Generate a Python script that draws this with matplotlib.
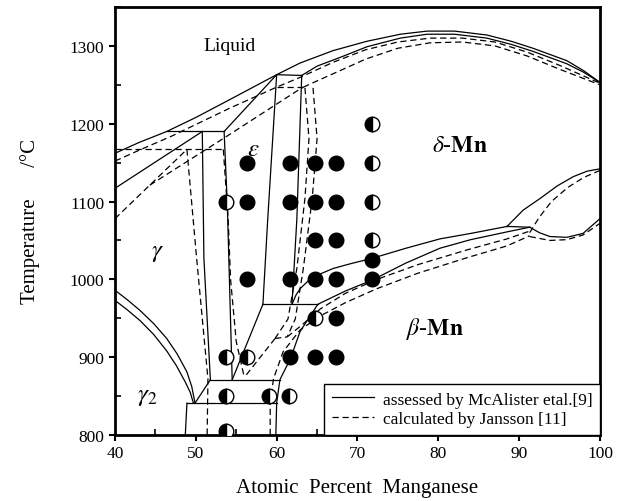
import matplotlib
matplotlib.use("Agg")
import matplotlib.pyplot as plt
from matplotlib.lines import Line2D
from matplotlib.ticker import MultipleLocator

plt.rcParams["font.family"] = ["Liberation Serif", "DejaVu Serif"]
plt.rcParams["mathtext.fontset"] = "stix"

# phase boundaries (at.% Mn, deg C), assessed by McAlister - solid lines
liquidus = [(40, 1162), (43, 1176), (46.4, 1190), (50, 1208), (54.2, 1231), (60, 1263),
            (62.9, 1278), (67, 1294), (71.2, 1306), (75.3, 1315), (78.6, 1319), (82, 1319),
            (86, 1314), (89, 1306), (91.7, 1297), (95.9, 1281), (98, 1268), (100, 1253)]
delta_solidus = [(63.1, 1262), (65, 1274), (67.8, 1285), (71.2, 1299), (75.3, 1310), (78.6, 1315),
                 (82, 1315), (86, 1310), (89, 1302), (91.7, 1293), (95.9, 1277), (98, 1266), (100, 1253)]
per_1263 = [(60, 1263), (63.1, 1262)]
eps_solidus = [(60, 1263), (53.5, 1190)]
per_1190 = [(46.4, 1190), (53.5, 1190)]
gamma_solidus = [(40, 1117), (50.8, 1190)]
gamma_solvus = [(50.8, 1190), (51.0, 1027), (51.8, 871)]
eps_left = [(53.5, 1190), (53.9, 1095), (54.5, 871)]
eps_right = [(60, 1263), (58.9, 1078), (58.3, 968)]
eps_delta = [(63.1, 1262), (62.5, 1078), (61.9, 968)]
per_968 = [(58.3, 968), (65.1, 968)]
eps_beta = [(58.3, 968), (54.5, 871)]
eut_871 = [(51.8, 871), (60.4, 871)]
gamma2_link = [(49.9, 841), (51.8, 871)]
eut_841 = [(48.9, 841), (60.0, 841)]
left_841 = [(48.9, 841), (48.7, 800)]
gamma2_outer = [(40, 986), (41.5, 974), (43.1, 960), (44.8, 943), (46.4, 924), (47.7, 904),
                (48.9, 881), (49.5, 862), (49.9, 841)]
gamma2_inner = [(40, 973), (41.5, 961), (43.1, 947), (44.8, 929), (46.4, 908), (47.6, 889),
                (48.7, 868), (49.3, 855), (49.7, 841)]
beta_left = [(59.9, 800), (60.0, 841), (60.4, 871), (61.7, 898), (62.9, 933), (65.1, 968),
             (68.5, 985), (71.8, 999), (76, 1021), (80.2, 1040), (84, 1051), (88.5, 1061), (91.3, 1067)]
delta_beta = [(61.9, 968), (62.4, 980), (62.9, 988), (64, 999), (65.4, 1007), (67, 1014), (69.1, 1020),
              (71.8, 1027), (76, 1040), (80.2, 1052), (84, 1059), (88.5, 1068)]
lens_top = [(88.5, 1068), (90.5, 1089), (92.6, 1104), (94.7, 1120), (96.7, 1132), (98.4, 1139), (100, 1142)]
lens_flat = [(88.5, 1068), (91.3, 1067)]
lens_bottom = [(91.3, 1067), (92.5, 1060), (93.8, 1055), (95.9, 1054), (97.9, 1059), (100, 1078)]

# calculated by Jansson - dashed lines
d_liquidus = [(40, 1152), (43, 1166), (47, 1184), (54.2, 1220), (60, 1247), (63, 1260), (67, 1279),
              (71, 1295), (75, 1305), (79, 1310), (83, 1310), (87, 1305), (91, 1292), (95, 1275), (100, 1252)]
d_delta_solidus = [(63.3, 1247), (65, 1255), (67.8, 1268), (71, 1283), (75, 1297), (79, 1304),
                   (83, 1305), (87, 1300), (91, 1287), (95, 1270), (100, 1250)]
d_per_1247 = [(60, 1247), (63.3, 1247)]
d_long = [(44.3, 1121), (53.4, 1181), (62.5, 1242), (63.3, 1247)]
d_per_1167 = [(40, 1167), (53.4, 1167)]
d_gamma_solidus = [(40, 1078), (48.9, 1167)]
d_gamma_solvus = [(48.9, 1167), (50.1, 1027), (51.5, 872), (51.4, 800)]
d_eps_left = [(53.4, 1167), (54.0, 1078), (54.3, 1000), (55.0, 920), (56.0, 874)]
d_eps_right1 = [(63.5, 1246), (64.0, 1181), (63.5, 1104), (62.5, 1014), (61.4, 949), (59.8, 924)]
d_eps_right2 = [(64.5, 1246), (65.0, 1181), (64.4, 1104), (63.3, 1014), (62.3, 949), (61.3, 926)]
d_eut = [(59.8, 924), (56.0, 874)]
d_flat = [(59.8, 924), (61.3, 926)]
d_delta_beta = [(61.3, 926), (63.2, 942), (65.4, 962), (68.5, 982), (72.4, 1000), (77.5, 1019),
                (83.6, 1038), (88.5, 1052), (91.3, 1062)]
d_beta = [(59.2, 800), (59.2, 840), (59.6, 872), (60.8, 907), (62.9, 935), (65.4, 953), (68.5, 970),
          (72.4, 988), (77.5, 1008), (83.6, 1028), (88.5, 1043), (91.3, 1056)]
d_lens_top = [(91.3, 1060), (92.5, 1080), (94.0, 1100), (96, 1118), (98, 1131), (100, 1140)]
d_lens_bottom = [(91.3, 1055), (93.8, 1050), (95.9, 1051), (97.9, 1057), (100, 1072)]

# experimental points
full_x = [56.3, 61.7, 64.8, 67.4, 56.3, 61.7, 64.8, 67.4, 64.8, 67.4, 56.3, 61.7, 64.8, 67.4,
          71.8, 71.8, 67.4, 61.7, 64.8, 67.4]
full_t = [1150, 1150, 1150, 1150, 1100, 1100, 1100, 1100, 1050, 1050, 1000, 1000, 1000, 1000,
          1025, 1000, 950, 900, 900, 900]
half_x = [71.8, 71.8, 71.8, 71.8, 53.7, 64.8, 53.7, 56.3, 53.7, 59.1, 61.5, 53.7]
half_t = [1200, 1150, 1100, 1050, 1100, 950, 900, 900, 850, 850, 850, 805]

solid_lines = [liquidus, delta_solidus, per_1263, eps_solidus, per_1190, gamma_solidus,
               gamma_solvus, eps_left, eps_right, eps_delta, per_968, eps_beta, eut_871,
               gamma2_link, eut_841, left_841, gamma2_outer, gamma2_inner, beta_left,
               delta_beta, lens_top, lens_flat, lens_bottom]
dashed_lines = [d_liquidus, d_delta_solidus, d_per_1247, d_long, d_per_1167, d_gamma_solidus,
                d_gamma_solvus, d_eps_left, d_eps_right1, d_eps_right2, d_eut, d_flat,
                d_delta_beta, d_beta, d_lens_top, d_lens_bottom]

fig = plt.figure(figsize=(6.28, 5.02), dpi=100)
ax = fig.add_axes([0.1831, 0.1315, 0.7723, 0.8526])

for line in solid_lines:
    xs, ts = zip(*line)
    ax.plot(xs, ts, color="black", lw=0.9)
for line in dashed_lines:
    xs, ts = zip(*line)
    ax.plot(xs, ts, color="black", lw=0.9, dashes=(5, 3))

ax.plot(full_x, full_t, "o", color="black", ms=10.5, zorder=5)
ax.plot(half_x, half_t, "o", ms=10.5, fillstyle="left", markerfacecolor="black",
        markerfacecoloralt="white", markeredgecolor="black", markeredgewidth=1, zorder=5)

ax.text(54.2, 1300, "Liquid", fontsize=14, ha="center", va="center")
ax.text(57.1, 1168, r"$\varepsilon$", fontsize=18, ha="center", va="center")
ax.text(82.7, 1172, r"$\delta$-$\mathbf{Mn}$", fontsize=17, ha="center", va="center")
ax.text(79.6, 937, r"$\beta$-$\mathbf{Mn}$", fontsize=17, ha="center", va="center")
ax.text(45.3, 1035, r"$\gamma$", fontsize=18, ha="center", va="center")
ax.text(44.0, 850, r"$\gamma_2$", fontsize=18, ha="center", va="center")

ax.set_xlim(40, 100)
ax.set_ylim(800, 1350)
ax.xaxis.set_major_locator(MultipleLocator(10))
ax.xaxis.set_minor_locator(MultipleLocator(5))
ax.yaxis.set_major_locator(MultipleLocator(100))
ax.yaxis.set_minor_locator(MultipleLocator(50))
ax.tick_params(which="major", direction="out", length=4, width=1.5, labelsize=12.5)
ax.tick_params(which="minor", direction="in", length=4, width=1.2)
for sp in ax.spines.values():
    sp.set_linewidth(2)

ax.set_xlabel("Atomic  Percent  Manganese", fontsize=15)
ax.xaxis.set_label_coords(0.5, -0.1)
ax.set_ylabel("Temperature      /°C", fontsize=15)
ax.yaxis.set_label_coords(-0.155, 0.5)

handles = [Line2D([], [], color="black", lw=0.9),
           Line2D([], [], color="black", lw=0.9, dashes=(5, 3))]
leg = ax.legend(handles, ["assessed by McAlister etal.[9]", "calculated by Jansson [11]"],
                loc="lower right", borderaxespad=0, fontsize=12.5, fancybox=False,
                framealpha=1, edgecolor="black", handlelength=2.4, handletextpad=0.5,
                labelspacing=0.2, borderpad=0.45)
leg.get_frame().set_linewidth(1)

fig.savefig("out.png", dpi=100)
